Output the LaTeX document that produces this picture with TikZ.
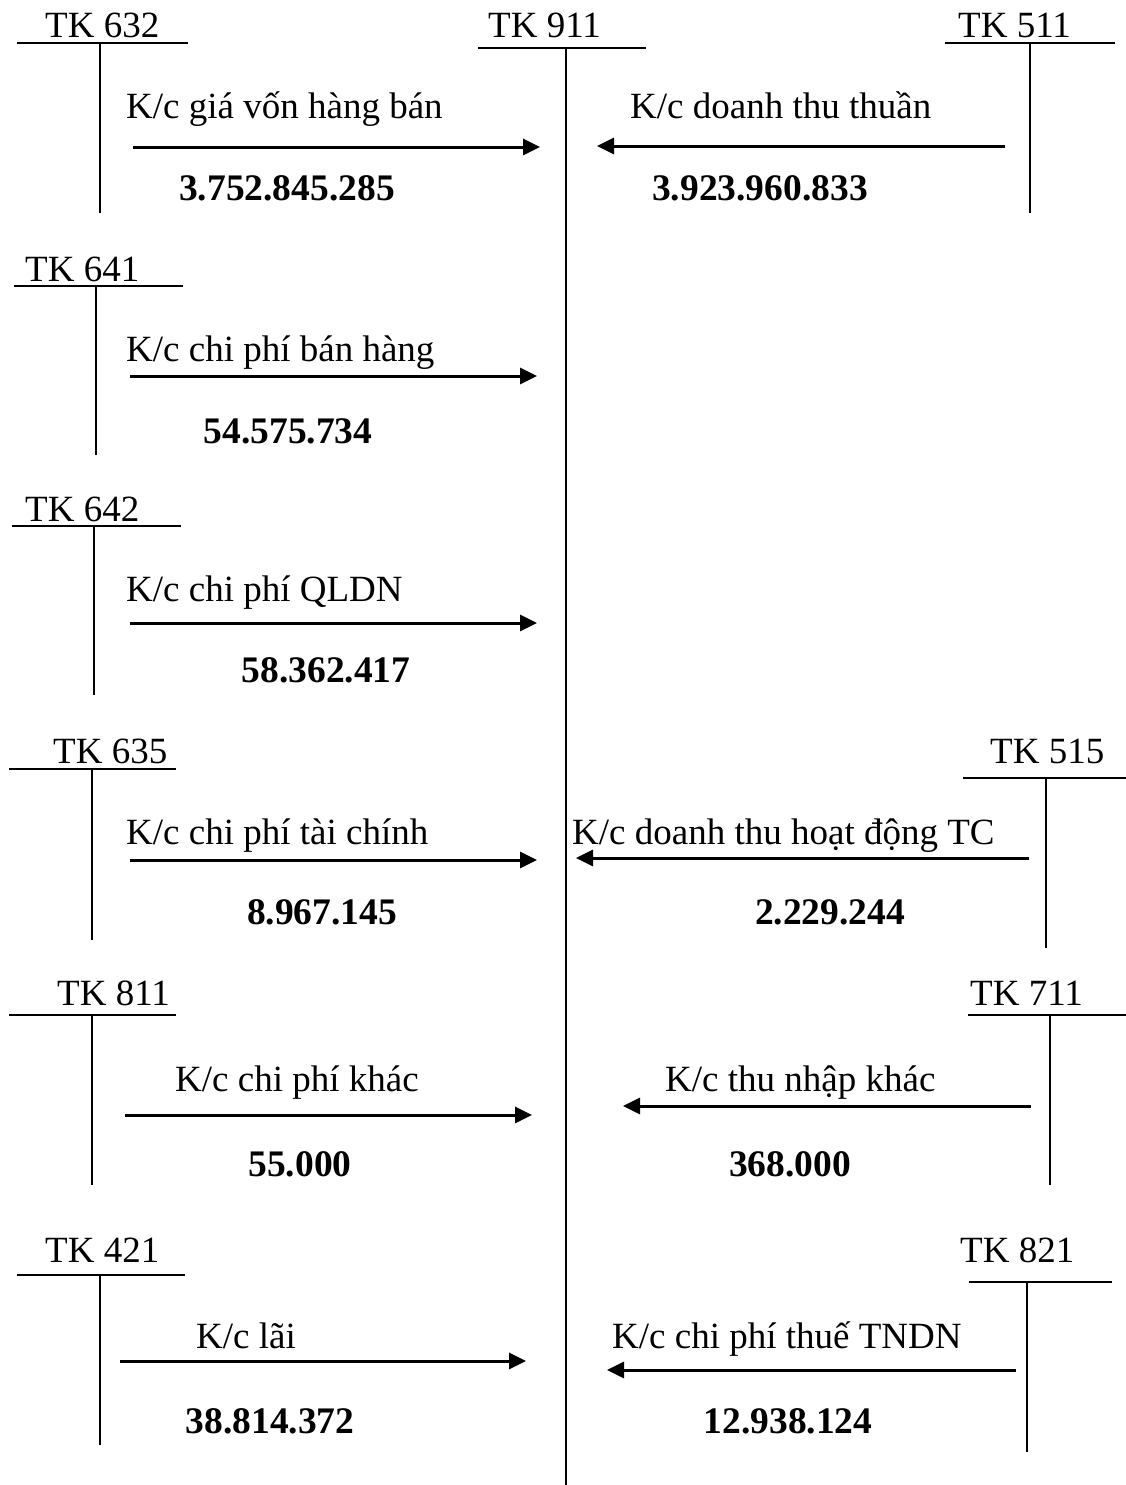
\documentclass[tikz,border=0pt]{standalone}
\usepackage{fontspec}
\setmainfont{Liberation Serif}
\usetikzlibrary{arrows.meta}

\begin{document}
\begin{tikzpicture}[x=1pt,y=-1pt,
  txt/.style={inner sep=0pt,anchor=base west,font=\fontsize{37}{44}\selectfont},
  amt/.style={inner sep=0pt,anchor=base,font=\fontsize{37.5}{44}\selectfont\bfseries},
  tline/.style={line width=1.8pt},
  flow/.style={line width=3pt,-{Triangle[length=17pt,width=16pt]}}
]
\useasboundingbox (0,0) rectangle (1126,1485);

% T-account: name, label x, label baseline, bar left, bar right, bar y, stem x, stem bottom
\newcommand{\taccount}[9]{%
  \node[txt] (#1) at (#3,#4) {#2};
  \coordinate (#1-l) at (#5,#7);
  \coordinate (#1-r) at (#6,#7);
  \coordinate (#1-t) at (#8,#7);
  \coordinate (#1-b) at (#8,#9);
  \draw[tline] (#1-l) -- (#1-r);
  \draw[tline] (#1-t) -- (#1-b);
}

% central account
\taccount{tk911}{TK 911}{488}{38}{478}{646}{48}{566}{1485}

% left-hand accounts
\taccount{tk632}{TK 632}{45}{38}{17}{188}{43}{100}{213}
\taccount{tk641}{TK 641}{25}{281}{14}{183}{286}{96}{455}
\taccount{tk642}{TK 642}{25}{521}{12}{181}{526}{94}{695}
\taccount{tk635}{TK 635}{53}{763}{9}{176}{769}{92}{940}
\taccount{tk811}{TK 811}{57}{1005}{9}{176}{1015}{92}{1185}
\taccount{tk421}{TK 421}{45}{1262}{17}{185}{1275}{100}{1445}

% right-hand accounts
\taccount{tk511}{TK 511}{958}{38}{945}{1115}{43}{1030}{213}
\taccount{tk515}{TK 515}{990}{763}{963}{1126}{778}{1046}{948}
\taccount{tk711}{TK 711}{970}{1005}{968}{1126}{1015}{1050}{1185}
\taccount{tk821}{TK 821}{960}{1262}{969}{1112}{1282}{1027}{1452}

% transfers into TK 911 from the left
\coordinate (a1s) at (133,147);  \coordinate (a1e) at (540,147);
\coordinate (a2s) at (130,376);  \coordinate (a2e) at (537,376);
\coordinate (a3s) at (130,623);  \coordinate (a3e) at (537,623);
\coordinate (a4s) at (130,860);  \coordinate (a4e) at (537,860);
\coordinate (a5s) at (125,1115); \coordinate (a5e) at (532,1115);
\coordinate (a6s) at (120,1361); \coordinate (a6e) at (526,1361);

% transfers into TK 911 from the right
\coordinate (b1s) at (1005,146); \coordinate (b1e) at (597,146);
\coordinate (b4s) at (1029,858); \coordinate (b4e) at (576,858);
\coordinate (b5s) at (1031,1106);\coordinate (b5e) at (623,1106);
\coordinate (b6s) at (1016,1370);\coordinate (b6e) at (607,1370);

\foreach \p in {a1,a2,a3,a4,a5,a6,b1,b4,b5,b6}
  \draw[flow] (\p s) -- (\p e);

% descriptions
\node[txt] (d1) at (126,118)  {K/c giá vốn hàng bán};
\node[txt] (d2) at (126,361)  {K/c chi phí bán hàng};
\node[txt] (d3) at (126,601)  {K/c chi phí QLDN};
\node[txt] (d4) at (126,844)  {K/c chi phí tài chính};
\node[txt] (d5) at (175,1091) {K/c chi phí khác};
\node[txt] (d6) at (196,1348) {K/c lãi};
\node[txt] (e1) at (630,118)  {K/c doanh thu thuần};
\node[txt] (e4) at (572,844)  {K/c doanh thu hoạt động TC};
\node[txt] (e5) at (665,1091) {K/c thu nhập khác};
\node[txt] (e6) at (612,1348) {K/c chi phí thuế TNDN};

% amounts
\node[amt] (n1) at (287,200)  {3.752.845.285};
\node[amt] (n2) at (288,443)  {54.575.734};
\node[amt] (n3) at (326,682)  {58.362.417};
\node[amt] (n4) at (322,924)  {8.967.145};
\node[amt] (n5) at (300,1176) {55.000};
\node[amt] (n6) at (270,1433) {38.814.372};
\node[amt] (m1) at (760,200)  {3.923.960.833};
\node[amt] (m4) at (830,924)  {2.229.244};
\node[amt] (m5) at (790,1176) {368.000};
\node[amt] (m6) at (788,1433) {12.938.124};
\end{tikzpicture}
\end{document}
